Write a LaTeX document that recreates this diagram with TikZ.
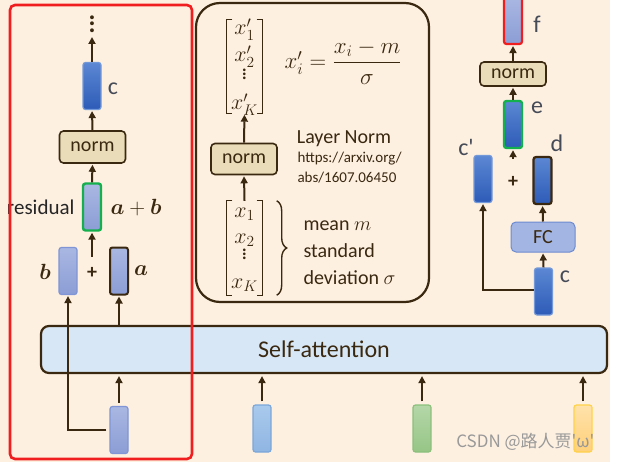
\RequirePackage{fix-cm}
\documentclass[tikz,border=0pt]{standalone}
\usepackage{amsmath,bm}
\usepackage{fontspec}
\setmainfont{Carlito}
\newfontfamily\cjkfont{Noto Sans CJK SC}
\usepackage{tikz}
\usetikzlibrary{arrows.meta,
                calc,
                positioning,
                shapes.geometric,
                decorations.pathreplacing}

\definecolor{cream}{HTML}{FDF0E1}
\definecolor{brn}{HTML}{3A2810}
\definecolor{bluetop}{HTML}{5B87D3}
\definecolor{bluebot}{HTML}{2E5BB7}
\definecolor{lavtop}{HTML}{A9B7E2}
\definecolor{lavbot}{HTML}{8B9DD5}
\definecolor{lavline}{HTML}{7F95D5}
\definecolor{normtan}{HTML}{EADCB8}
\definecolor{safill}{HTML}{D7E7F6}
\definecolor{frred}{HTML}{F01E1E}
\definecolor{grn}{HTML}{14B04E}
\definecolor{lbl}{HTML}{464B58}
\definecolor{fcfill}{HTML}{A3B6E3}
\definecolor{fcline}{HTML}{6C8AD0}
\definecolor{skytop}{HTML}{A9CAEC}
\definecolor{skybot}{HTML}{8FB5E2}
\definecolor{skyline}{HTML}{7BA7DA}
\definecolor{leaftop}{HTML}{B4D7A8}
\definecolor{leafbot}{HTML}{96C586}
\definecolor{leafline}{HTML}{8CC07C}
\definecolor{suntop}{HTML}{FFE2AA}
\definecolor{sunbot}{HTML}{FFD07A}
\definecolor{sunline}{HTML}{FFD24A}

\tikzset{
  vec/.style={rounded corners=2.5pt, minimum width=18pt, minimum height=47pt,
              inner sep=0pt, line width=1.2pt},
  bluevec/.style={vec, top color=bluetop, bottom color=bluebot, draw=bluetop!85!white},
  lavvec/.style={vec, top color=lavtop, bottom color=lavbot, draw=lavline},
  normbox/.style={draw=brn, fill=normtan, line width=1.6pt, rounded corners=4pt,
                  minimum width=66pt, inner sep=0pt, text=brn,
                  font=\fontsize{20}{20}\selectfont},
  arr/.style={draw=brn, line width=2pt, -{Triangle[length=7pt,width=7pt]},
              shorten >=1pt},
  lab/.style={text=lbl, font=\fontsize{24}{24}\selectfont},
  bvar/.style={text=brn, font=\fontsize{22}{22}\selectfont},
  plain/.style={text=brn, font=\fontsize{20}{27}\selectfont},
  vecbox/.style={minimum width=36pt, minimum height=94pt, inner sep=0pt},
  entry/.style={text=brn, anchor=base, inner sep=0pt, font=\fontsize{22}{22}\selectfont},
  bracket/.style={draw=brn, line width=1.2pt},
}

\begin{document}
\begin{tikzpicture}[x=1pt,y=-1pt]
\useasboundingbox (0,0) rectangle (618,468);
\fill[cream] (0,0) rectangle (610,462);

% self-attention layer
\node[draw=brn, fill=safill, line width=2.2pt, rounded corners=8pt,
      minimum width=566pt, minimum height=47pt, text=brn,
      font=\fontsize{24}{24}\selectfont] (sa) at (324,349.5) {Self-attention};

% inputs
\node[lavvec] (in1) at (119,430) {};
\node[vec, top color=skytop, bottom color=skybot, draw=skyline] (in2) at (262,428.5) {};
\node[vec, top color=leaftop, bottom color=leafbot, draw=leafline] (in3) at (422,428.5) {};
\node[vec, top color=suntop, bottom color=sunbot, draw=sunline] (in4) at (583,428.5) {};
\foreach \n in {in1,in2,in3,in4}
  \draw[arr, shorten <=3pt, shorten >=2pt] (\n.north) -- (\n |- sa.south);

% left column: residual + norm
\node[lavvec] (bL) at (68,271) {};
\node[lavvec, draw=brn, line width=2pt] (aL) at (119,271) {};
\node[text=brn, font=\fontsize{20}{20}\bfseries, minimum height=32pt] (plusL) at (92,273) {+};
\node[lavvec, draw=grn, line width=2.4pt] (resid) at (92,207) {};
\node[normbox, minimum height=32pt] (normL) at (92.5,147) {norm};
\node[bluevec] (cL) at (92,86) {};
\node[text=brn, align=center, inner sep=0pt,
      font=\fontsize{26}{6.5}\bfseries] (dotsL) at (92,24) {.\\.\\.};

\node[bvar] (bname) at (45,272) {$\bm{b}$};
\node[bvar] (aname) at (141,271) {$\bm{a}$};
\node[bvar] (abname) at (136,208) {$\bm{a}+\bm{b}$};
\node[anchor=east, text=black!85, font=\fontsize{21}{21}\selectfont] (residname) at (78,207) {residual};
\node[lab] (cLname) at (113,89) {c};

\draw[arr] (aL |- sa.north) -- (aL.south);
\draw[arr] ([xshift=-3pt]in1.west) -| (bL.south);
\draw[arr] (plusL.north) -- (resid.south);
\draw[arr] (resid.north) -- (normL.south);
\draw[arr] (normL.north) -- (cL.south);
\draw[arr] (cL.north) -- (92,36);

% middle: layer norm
\draw[brn, line width=2.2pt, rounded corners=24pt] (196,3) rectangle (429,302);

\node[vecbox] (topM) at (244.5,66.5) {};
\node[vecbox] (botM) at (244.5,248) {};
\foreach \v in {topM,botM} {
  \draw[bracket] ([xshift=6pt]\v.north west) -| (\v.south west) -- ++(6pt,0);
  \draw[bracket] ([xshift=-6pt]\v.north east) -| (\v.south east) -- ++(-6pt,0);
}
\foreach \t/\y in {x'_1/35, x'_2/62, \vdots/80, x'_K/110}
  \node[entry] at (244.5,\y) {$\t$};
\foreach \t/\y in {x_1/217, x_2/243, \vdots/259, x_K/288}
  \node[entry] at (244.5,\y) {$\t$};

\node[text=brn, font=\fontsize{23}{26}\selectfont] (formula) at (343,62)
  {$x'_i = \dfrac{x_i - m}{\sigma}$};
\node[normbox, minimum height=31pt] (normM) at (244,159) {norm};
\draw[brn, line width=1.4pt, decorate, decoration={brace, amplitude=10pt}]
  ([xshift=14pt]botM.north east) -- ([xshift=14pt]botM.south east);
\node[plain] (lnname) at (344,139) {Layer Norm};
\node[anchor=west, align=left, text=brn, font=\fontsize{15}{20}\selectfont] (url) at (294,168)
  {https://arxiv.org/\\abs/1607.06450};
\node[plain, anchor=west, align=left] (stats) at (300,253)
  {mean $m$\\standard\\deviation $\sigma$};

\draw[arr] (normM.north) -- (topM.south);
\draw[arr] (botM.north) -- (normM.south);

% right column: feed forward
\node[lavvec, draw=frred, line width=2.2pt] (fR) at (513,20.5) {};
\node[normbox, minimum height=24pt] (normR) at (513,74) {norm};
\node[bluevec, draw=grn, line width=2.4pt] (eR) at (513,124.5) {};
\node[text=brn, font=\fontsize{20}{20}\bfseries, minimum height=46pt] (plusR) at (513,182) {+};
\node[bluevec] (cpR) at (483,179) {};
\node[bluevec, draw=brn, line width=2.2pt] (dR) at (542.5,180.5) {};
\node[draw=fcline, fill=fcfill, rounded corners=5pt, minimum width=64pt, minimum height=30pt,
      line width=1pt, text=brn, font=\fontsize{20}{20}\selectfont] (fc) at (543,237) {FC};
\node[bluevec] (cR) at (543.5,291.5) {};

\node[lab] (fname) at (537,24) {f};
\node[lab] (ename) at (537,108) {e};
\node[lab] (cpname) at (466,147) {c\textquotesingle};
\node[lab] (dname) at (557,143) {d};
\node[lab] (cname) at (565,277) {c};

\draw[arr] (cR.north) -- (fc.south);
\draw[arr] (fc.north) -- (dR.south);
\draw[arr] ([yshift=2pt]cR.west) -| (cpR.south);
\draw[arr] (plusR.north) -- (eR.south);
\draw[arr] (eR.north) -- (normR.south);
\draw[arr] (normR.north) -- (fR.south);

% highlight frame
\draw[frred, line width=2.6pt, rounded corners=5pt] (10,5) rectangle (192,459);

\node[anchor=east, text=black!40, font=\cjkfont\fontsize{17}{17}\selectfont] (wm) at (598,442)
  {CSDN @路人贾\textquotesingle ω\textquotesingle};
\end{tikzpicture}
\end{document}
